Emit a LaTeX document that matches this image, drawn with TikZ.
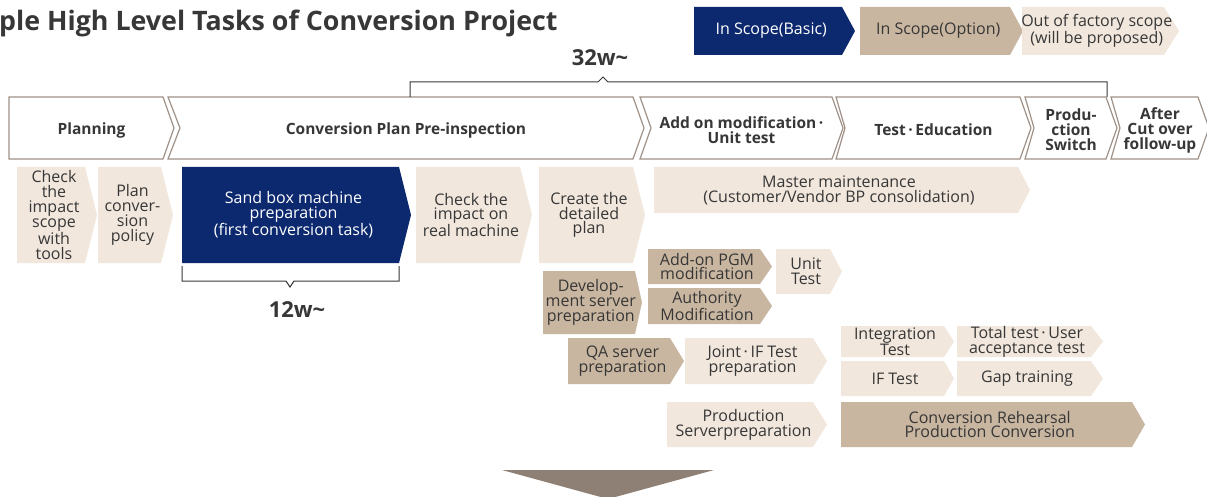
\documentclass[tikz,border=0pt]{standalone}
\usepackage{fontspec}
\setmainfont{Open Sans}
\definecolor{navy}{RGB}{12,40,110}
\definecolor{tan}{RGB}{201,182,160}
\definecolor{sand}{RGB}{241,231,221}
\definecolor{edge}{RGB}{160,145,135}
\definecolor{ink}{RGB}{55,55,55}
\definecolor{arrowgray}{RGB}{143,128,117}
\tikzset{
  basic/.style={fill=navy,text=white},
  option/.style={fill=tan,text=ink},
  outside/.style={fill=sand,text=ink},
  phasebox/.style={draw=edge,fill=white,line width=1.2pt},
  tasktext/.style={font=\fontsize{16}{14.8}\selectfont,align=center,inner sep=0pt},
  phasetext/.style={text=ink,font=\fontsize{15.5}{15}\selectfont\bfseries,align=center,inner sep=0pt},
  brace/.style={draw=ink,line width=1pt},
  weeks/.style={text=ink,font=\fontsize{22}{22}\selectfont\bfseries}
}
% task: style, name, left, top, right, bottom, point, text
\newcommand{\chev}[8]{%
  \fill[#1] (#3,#4) -- (#5,#4) -- ++(#7,{(#6-#4)/2}) -- (#5,#6) -- (#3,#6) -- cycle;
  \node[tasktext,#1,fill=none] (#2) at ({(#3+#5)/2+#7/4},{(#4+#6)/2}) {#8};
}
% phase: name, left, right, notch, text
\newcommand{\phase}[5]{%
  \draw[phasebox] (#2,97) -- (#3,97) -- (#3+11,128) -- (#3,159) -- (#2,159) -- (#2+#4,128) -- cycle;
  \node[phasetext] (#1) at ({(#2+#3+11)/2},130) {#5};
}
\begin{document}
\begin{tikzpicture}[x=1pt,y=-1pt]
\useasboundingbox (0,0) rectangle (1207,497);
\node[anchor=west,text=ink,font=\fontsize{26.8}{26.8}\selectfont\bfseries,inner sep=0pt] (title) at (-1,23) {ple High Level Tasks of Conversion Project};
%legend
\chev{basic}{lbasic}{694}{7}{842}{55}{13}{In Scope(Basic)}
\chev{option}{loption}{860}{7}{1010}{55}{13}{In Scope(Option)}
\chev{outside}{loutside}{1022}{7}{1164}{55}{15}{Out of factory scope\\(will be proposed)}
%phases
\phase{planning}{9}{163}{0}{Planning}
\phase{preinsp}{168}{633}{12}{Conversion Plan Pre-inspection}
\phase{addon}{640}{832}{11}{Add on modification\,·\\Unit test}
\phase{testedu}{836}{1020}{9}{Test\,·\,Education}
\phase{switch}{1025}{1106}{9}{Produ-\\ction\\Switch}
\phase{followup}{1111}{1198}{9}{After\\Cut over\\follow-up}
%weeks
\node[weeks] (w32) at (600,58) {32w\textasciitilde};
\draw[brace] (410,97) -- (410,82) -- (598,82) -- (603,77) -- (608,82) -- (1107,82) -- (1107,97);
\node[weeks] (w12) at (297,310) {12w\textasciitilde};
\draw[brace] (182,266) -- (182,281) -- (286,281) -- (290,287) -- (294,281) -- (399,281) -- (399,266);
%tasks
\chev{outside}{scope}{17}{167}{85}{263}{12}{Check\\the\\impact\\scope\\with\\tools}
\chev{outside}{policy}{98}{167}{161}{263}{12}{Plan\\conver-\\sion\\policy}
\chev{basic}{sandbox}{182}{167}{399}{263}{12}{Sand box machine\\preparation\\(first conversion task)}
\chev{outside}{realcheck}{416}{167}{520}{263}{12}{Check the\\impact on\\real machine}
\chev{outside}{detail}{539}{167}{633}{263}{12}{Create the\\detailed\\plan}
\chev{outside}{master}{654}{167}{1018}{213}{12}{Master maintenance\\(Customer/Vendor BP consolidation)}
\chev{option}{pgm}{648}{249}{760}{284}{12}{Add-on PGM\\modification}
\chev{outside}{unit}{776}{249}{830}{294}{12}{Unit\\Test}
\chev{option}{devsrv}{543}{271}{635}{334}{7}{Develop-\\ment server\\preparation}
\chev{option}{authority}{648}{288}{760}{324}{12}{Authority\\Modification}
\chev{option}{qasrv}{568}{338}{670}{384}{14}{QA server\\preparation}
\chev{outside}{joint}{685}{338}{813}{384}{14}{Joint\,·\,IF Test\\preparation}
\chev{outside}{prodsrv}{667}{402}{813}{447}{14}{Production\\Serverpreparation}
\chev{outside}{integ}{841}{326}{944}{357}{10}{Integration\\Test}
\chev{outside}{total}{957}{326}{1091}{357}{12}{Total test\,·\,User\\acceptance test}
\chev{outside}{iftest}{841}{361}{944}{396}{10}{IF Test}
\chev{outside}{gap}{957}{361}{1091}{396}{12}{Gap training}
\chev{option}{rehearsal}{841}{402}{1132}{447}{13}{Conversion Rehearsal\\Production Conversion}
%down arrow
\fill[arrowgray] (502,470) -- (714,470) -- (608,499) -- cycle;
\end{tikzpicture}
\end{document}
